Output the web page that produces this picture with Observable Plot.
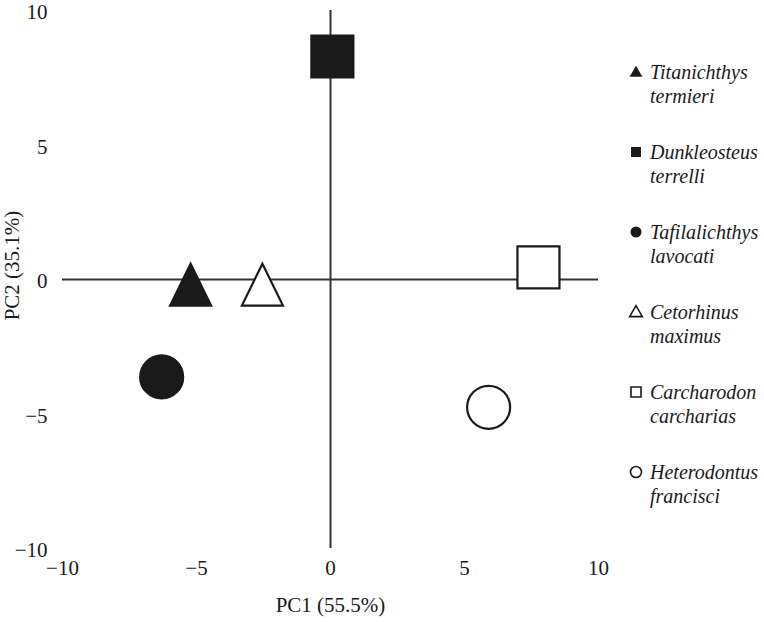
<!DOCTYPE html>
<html><head><meta charset="utf-8">
<script src="https://cdn.jsdelivr.net/npm/d3@7"></script>
<script src="https://cdn.jsdelivr.net/npm/@observablehq/plot@0.6"></script>
<style>
body{margin:0;background:#fff;}
#wrap{position:relative;width:764px;height:622px;}
#legend{position:absolute;left:629px;top:60px;font-family:"Liberation Serif","Times New Roman",serif;font-style:italic;font-size:20px;color:#1a1a1a;}
.item{position:relative;height:80px;padding-left:21px;line-height:24px;white-space:nowrap;}
.item svg{position:absolute;left:0;top:5px;}
svg{overflow:visible;}
</style></head><body><div id="wrap"><div id="legend"></div></div>
<script>
// Data
const species = ["Titanichthys termieri","Dunkleosteus terrelli","Tafilalichthys lavocati","Cetorhinus maximus","Carcharodon carcharias","Heterodontus francisci"];
const pc1 = [-5.22, 0.07, -6.3, -2.54, 7.76, 5.9];
const pc2 = [-0.45, 8.29, -3.62, -0.45, 0.45, -4.75];
const shapes = ["triangle","square","circle","triangle","square","circle"];
const filled = [true, true, true, false, false, false];
const axisDomain = [-10, 10];
const xTicks = [-10, -5, 0, 5, 10];
const yTicks = [-10, -5, 0, 5, 10];
const xLabel = "PC1 (55.5%)";
const yLabel = "PC2 (35.1%)";

const ink = "#1a1a1a";
const rows = species.map((s, i) => ({species: s, pc1: pc1[i], pc2: pc2[i], shape: shapes[i], filled: filled[i]}));

// isosceles triangle like the reference, centroid at origin
const tri = {draw(ctx, size) {
  const r = Math.sqrt(size / Math.PI), h = 2.33 * r, w = 1.14 * r;
  ctx.moveTo(0, -2 * h / 3); ctx.lineTo(w, h / 3); ctx.lineTo(-w, h / 3); ctx.closePath();
}};
const symFor = {triangle: tri, square: "square", circle: "circle"};
const rFor = {triangle: 18, square: 23.7, circle: 21.5};

const dotMarks = ["triangle","square","circle"].map(sh =>
  Plot.dot(rows.filter(d => d.shape === sh), {
    x: "pc1", y: "pc2", symbol: () => symFor[sh], r: rFor[sh],
    fill: d => d.filled ? ink : "white", stroke: ink, strokeWidth: 2.2
  })
);

const chart = Plot.plot({
  width: 764, height: 622,
  marginLeft: 62, marginRight: 166, marginTop: 10, marginBottom: 74,
  style: {fontFamily: '"Liberation Serif","Times New Roman",serif', fontSize: "21px", color: ink, background: "white", overflow: "visible"},
  symbol: {type: "identity"},
  color: {type: "identity"},
  x: {domain: axisDomain},
  y: {domain: axisDomain},
  marks: [
    Plot.axisX({ticks: xTicks, tickSize: 0, tickPadding: 12, label: xLabel, labelAnchor: "center", labelArrow: "none", labelOffset: 63}),
    Plot.axisY({ticks: yTicks, tickSize: 0, tickPadding: 15, label: null, dy: 2}),
    Plot.ruleX([0], {y1: axisDomain[0], y2: axisDomain[1], stroke: "#333", strokeWidth: 2}),
    Plot.ruleY([0], {x1: axisDomain[0], x2: axisDomain[1], stroke: "#333", strokeWidth: 2}),
    ...dotMarks,
    Plot.text([yLabel], {text: d => d, frameAnchor: "left", textAnchor: "middle", rotate: -90, dx: -50, dy: -14, fontSize: 21, fill: ink})
  ]
});
document.getElementById("wrap").prepend(chart);

// Legend
const legend = document.getElementById("legend");
rows.forEach(d => {
  const div = document.createElement("div");
  div.className = "item";
  const svg = d3.create("svg").attr("width", 14).attr("height", 14);
  const sym = d.shape === "triangle" ? d3.symbolTriangle : d.shape === "square" ? d3.symbolSquare : d3.symbolCircle;
  const size = d.shape === "square" ? 100 : d.shape === "circle" ? 95 : 70;
  svg.append("path").attr("transform", d.shape === "triangle" ? "translate(7,8)" : "translate(7,7)")
    .attr("d", d3.symbol(sym, size)())
    .attr("fill", d.filled ? ink : "white").attr("stroke", ink).attr("stroke-width", d.filled ? 0 : 1.6);
  div.appendChild(svg.node());
  const [g, sp] = d.species.split(" ");
  div.appendChild(document.createTextNode(g));
  div.appendChild(document.createElement("br"));
  div.appendChild(document.createTextNode(sp));
  legend.appendChild(div);
});
</script>
</body></html>
